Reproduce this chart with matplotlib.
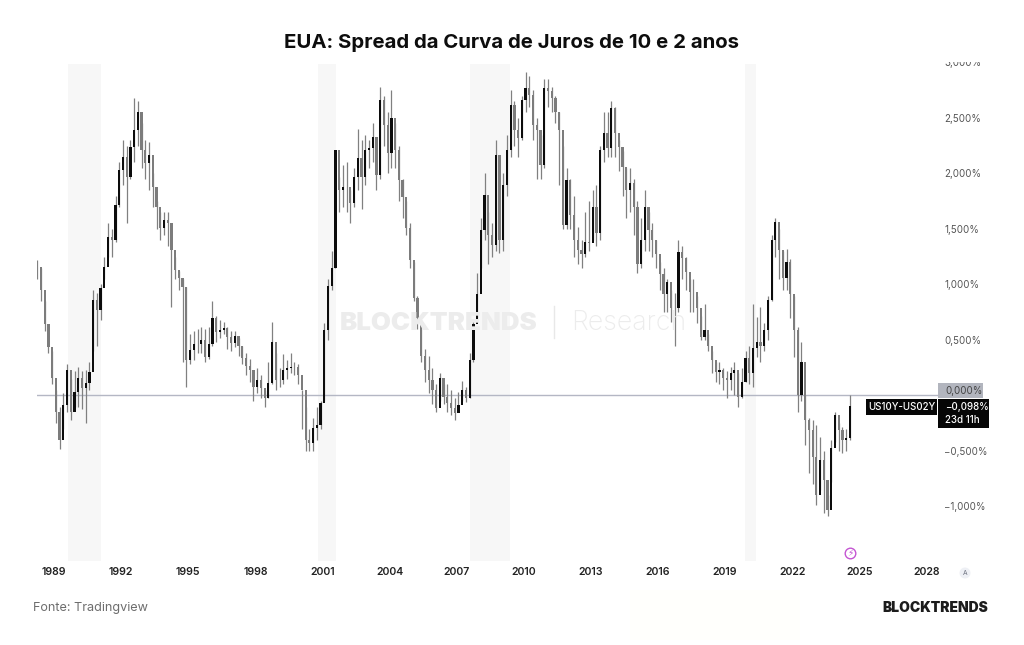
import numpy as np
import matplotlib
matplotlib.use("Agg")
import matplotlib.pyplot as plt
from matplotlib.patches import Rectangle, Circle
from matplotlib.transforms import Bbox

W, H = 1024, 645

# spread values in percent, one candle every two months, three years per row
closes = [
    1.16, 0.95, 0.64, 0.44, 0.16, -0.15, -0.40, -0.09, 0.23, -0.15, 0.03, 0.16, 0.07, 0.11, 0.21, 0.86, 0.77, 0.97,
    1.16, 1.43, 1.40, 1.72, 2.03, 2.15, 1.97, 2.24, 2.39, 2.55, 2.21, 2.09, 2.17, 1.88, 1.70, 1.51, 1.58, 1.55,
    1.31, 1.13, 1.06, 0.98, 0.32, 0.41, 0.46, 0.46, 0.50, 0.35, 0.46, 0.70, 0.57, 0.59, 0.61, 0.53, 0.47, 0.54,
    0.45, 0.34, 0.27, 0.23, 0.08, 0.14, 0.07, -0.02, 0.11, 0.48, 0.14, 0.14, 0.23, 0.25, 0.26, 0.26, 0.18, 0.05,
    -0.40, -0.43, -0.29, -0.27, -0.07, 0.59, 0.99, 1.15, 2.21, 1.85, 1.88, 1.88, 1.73, 1.97, 2.14, 1.97, 2.21, 2.23,
    2.33, 1.99, 2.66, 2.44, 2.18, 2.50, 2.21, 1.94, 1.79, 1.51, 1.22, 0.88, 0.70, 0.36, 0.23, 0.14, 0.05, -0.11,
    0.16, -0.01, -0.07, -0.11, -0.16, -0.09, 0.05, -0.02, 0.32, 0.64, 0.91, 1.49, 1.81, 1.45, 1.36, 2.17, 1.40, 1.90,
    2.21, 2.62, 2.39, 2.32, 2.66, 2.77, 2.71, 2.44, 2.39, 2.08, 2.77, 2.74, 2.68, 2.55, 2.39, 1.54, 1.94, 1.63,
    1.40, 1.31, 1.27, 1.38, 1.37, 1.70, 1.46, 2.21, 2.36, 2.23, 2.59, 2.36, 2.24, 2.06, 1.85, 1.91, 1.70, 1.18,
    1.40, 1.70, 1.49, 1.40, 1.27, 1.09, 0.91, 1.02, 0.79, 0.79, 1.29, 1.24, 1.11, 0.93, 0.93, 0.79, 0.53, 0.59,
    0.45, 0.32, 0.21, 0.23, 0.16, 0.14, 0.20, 0.23, -0.01, 0.12, 0.34, 0.20, 0.43, 0.48, 0.45, 0.59, 0.86, 1.40,
    1.56, 1.31, 1.06, 1.20, 0.91, 0.59, 0.00, 0.30, -0.22, -0.31, -0.55, -0.90, -0.58, -0.76, -1.03, -0.47, -0.18,
    -0.31, -0.40, -0.38, -0.098,
]
highs = [
    1.22, 1.15, 0.85, 0.60, 0.40, 0.05, -0.10, 0.02, 0.28, 0.15, 0.22, 0.26, 0.22, 0.23, 0.30, 0.95, 0.92, 1.00,
    1.25, 1.55, 1.50, 1.80, 2.10, 2.30, 2.25, 2.30, 2.68, 2.65, 2.45, 2.30, 2.28, 2.00, 1.75, 1.65, 1.65, 1.65,
    1.40, 1.25, 1.12, 1.05, 0.98, 0.55, 0.58, 0.60, 0.62, 0.60, 0.62, 0.85, 0.72, 0.68, 0.66, 0.62, 0.58, 0.58,
    0.52, 0.45, 0.38, 0.33, 0.22, 0.25, 0.18, 0.05, 0.30, 0.66, 0.38, 0.25, 0.37, 0.32, 0.38, 0.30, 0.28, 0.05,
    -0.10, -0.30, -0.20, -0.10, -0.05, 0.65, 1.05, 1.30, 2.21, 1.97, 2.08, 2.10, 1.85, 2.05, 2.40, 2.30, 2.35, 2.30,
    2.45, 2.10, 2.78, 2.70, 2.55, 2.75, 2.45, 2.25, 1.95, 1.75, 1.55, 1.20, 0.90, 0.62, 0.42, 0.36, 0.25, 0.10,
    0.20, 0.10, 0.10, 0.05, -0.02, 0.03, 0.13, 0.08, 0.38, 0.68, 1.10, 1.60, 2.00, 1.65, 1.55, 2.30, 1.95, 2.00,
    2.35, 2.75, 2.65, 2.50, 2.70, 2.91, 2.88, 2.75, 2.50, 2.35, 2.85, 2.85, 2.78, 2.70, 2.55, 2.25, 2.05, 1.95,
    1.80, 1.52, 1.40, 1.65, 1.75, 1.85, 1.90, 2.25, 2.55, 2.55, 2.65, 2.60, 2.30, 2.20, 2.05, 2.05, 1.95, 1.75,
    1.60, 1.85, 1.65, 1.55, 1.40, 1.20, 1.15, 1.05, 0.95, 0.92, 1.40, 1.35, 1.25, 1.05, 1.05, 0.90, 0.72, 0.82,
    0.55, 0.40, 0.30, 0.30, 0.25, 0.22, 0.26, 0.30, 0.20, 0.25, 0.40, 0.45, 0.82, 0.71, 0.80, 0.65, 0.90, 1.45,
    1.60, 1.50, 1.30, 1.32, 1.23, 0.90, 0.62, 0.48, 0.00, -0.20, -0.22, -0.27, -0.37, -0.50, -0.90, -0.40, -0.15,
    -0.25, -0.28, -0.30, 0.00,
]
lows = [
    1.05, 0.85, 0.58, 0.38, 0.10, -0.25, -0.48, -0.30, -0.15, -0.22, -0.10, -0.10, -0.12, -0.25, 0.05, 0.40, 0.45, 0.68,
    1.05, 1.25, 1.25, 1.38, 1.70, 1.90, 1.55, 1.95, 2.10, 2.25, 2.05, 1.95, 1.85, 1.70, 1.50, 1.40, 1.45, 1.35,
    0.80, 1.05, 0.95, 0.30, 0.08, 0.28, 0.32, 0.38, 0.38, 0.30, 0.33, 0.45, 0.48, 0.52, 0.55, 0.42, 0.40, 0.44,
    0.36, 0.28, 0.18, 0.12, -0.05, 0.02, -0.02, -0.10, -0.02, 0.10, 0.05, 0.08, 0.10, 0.15, 0.20, 0.18, 0.10, -0.30,
    -0.50, -0.50, -0.50, -0.40, -0.30, -0.05, 0.50, 0.95, 1.15, 1.65, 1.70, 1.65, 1.55, 1.70, 1.85, 1.68, 1.90, 2.05,
    2.10, 1.85, 1.95, 2.25, 2.00, 2.05, 2.05, 1.75, 1.60, 1.45, 1.15, 0.85, 0.60, 0.30, 0.12, 0.02, -0.08, -0.15,
    -0.05, -0.08, -0.15, -0.18, -0.22, -0.14, -0.05, -0.06, -0.02, 0.30, 0.70, 1.15, 1.40, 1.18, 1.25, 1.30, 1.28, 1.30,
    1.80, 2.15, 2.25, 2.15, 2.30, 2.55, 2.60, 2.30, 1.95, 1.95, 2.05, 2.60, 2.55, 2.45, 1.90, 1.50, 1.50, 1.50,
    1.25, 1.18, 1.15, 1.25, 1.30, 1.40, 1.35, 1.40, 2.10, 2.15, 2.15, 2.15, 2.02, 1.80, 1.60, 1.65, 1.45, 1.10,
    1.15, 1.30, 1.30, 1.25, 1.15, 0.95, 0.75, 0.75, 0.66, 0.45, 0.75, 1.05, 0.95, 0.75, 0.75, 0.65, 0.50, 0.50,
    0.40, 0.20, 0.12, 0.10, 0.05, -0.02, 0.05, 0.00, -0.10, -0.02, 0.12, 0.10, 0.08, 0.35, 0.30, 0.40, 0.50, 0.85,
    1.25, 1.05, 0.95, 0.95, 0.70, 0.35, -0.15, -0.05, -0.45, -0.70, -0.80, -0.99, -0.85, -1.06, -1.09, -0.78, -0.42,
    -0.50, -0.52, -0.50, -0.40,
]

# recession bands, decimal years
recessions = [(1989.62, 1991.10), (2000.82, 2001.62), (2007.62, 2009.37), (2019.90, 2020.40)]

year_ticks = [1989, 1992, 1995, 1998, 2001, 2004, 2007, 2010, 2013, 2016, 2019, 2022, 2025, 2028]
pct_ticks = [3.0, 2.5, 2.0, 1.5, 1.0, 0.5, -0.5, -1.0]
first_year = 1988.25
candles_per_year = 6
countdown = "23d 11h"
symbol = "US10Y-US02Y"


def pct_label(v):
    return f"{v:.3f}%".replace(".", ",").replace("-", "\u2212")


def fx(px):
    return px / W


def fy(px):
    return 1 - px / H


plt.rcParams["font.family"] = ["Inter", "DejaVu Sans"]

fig = plt.figure(figsize=(W / 100, H / 100), dpi=100, facecolor="white")
ax = fig.add_axes([fx(37), fy(561), fx(940) - fx(37), fy(60) - fy(561)])
ax.set_xlim(1988.24, 2028.61)
ax.set_ylim(-1.491, 3.022)

for side in ax.spines.values():
    side.set_visible(False)
ax.patch.set_alpha(0)

closes = np.array(closes)
highs = np.array(highs)
lows = np.array(lows)
years = first_year + np.arange(len(closes)) / candles_per_year
opens = np.r_[closes[0], closes[:-1]]
up = closes >= opens

for start, end in recessions:
    ax.axvspan(start, end, ymin=0, ymax=(2.986 + 1.491) / (3.022 + 1.491), color="#f7f7f7", lw=0, zorder=1)

ax.axhline(0, color="#b4b7c4", lw=1, zorder=2)

# wicks first, then down candles and up candles on top
ax.vlines(years, lows, highs, color="#808080", lw=0.9, zorder=3)
bar_w = 0.1
ax.bar(years[~up], (closes - opens)[~up], bottom=opens[~up], width=bar_w, color="#7c7c7c", lw=0, zorder=4)
ax.bar(years[up], (closes - opens)[up], bottom=opens[up], width=bar_w, color="#0c0c0c", lw=0, zorder=5)

ax.set_xticks(year_ticks)
ax.set_xticklabels([str(y) for y in year_ticks], fontsize=7.6, fontweight="semibold", color="#222222")
ax.set_yticks(pct_ticks)
ax.set_yticklabels([pct_label(v) for v in pct_ticks], fontsize=7, color="#555555", ha="left")
ax.yaxis.tick_right()
ax.tick_params(axis="x", length=0, pad=4)
ax.tick_params(axis="y", length=0, pad=3)

# labels run off the chart pane on the right and the top
clip = Bbox([[0, 0], [940, H - 62]])
for lbl in ax.get_xticklabels():
    lbl.set_clip_box(clip)
    lbl.set_clip_on(True)
for lbl in ax.get_yticklabels():
    lbl.set_clip_box(Bbox([[0, 0], [W, H - 62]]))
    lbl.set_clip_on(True)

# header, footer and brand mark
fig.text(fx(512), fy(43), "EUA: Spread da Curva de Juros de 10 e 2 anos", ha="center", va="center",
         fontsize=14.65, fontweight="bold", color="#0d0d0d")
fig.text(fx(33), fy(608), "Fonte: Tradingview", ha="left", va="center", fontsize=9.1, color="#6e6e6e")
fig.text(fx(988), fy(608.5), "BLOCKTRENDS", ha="right", va="center", fontsize=10, fontweight="black", color="#1c1c1c")

fig.text(fx(340), fy(323.5), "BLOCKTRENDS", ha="left", va="center", fontsize=18.6, fontweight="black",
         color="#ececec", zorder=0)
fig.text(fx(571), fy(323.5), "Research", ha="left", va="center", fontsize=19.3, fontweight="light",
         color="#ececec", zorder=0)
fig.add_artist(plt.Line2D([fx(554), fx(554)], [fy(306), fy(338)], color="#e8e8e8", lw=1, zorder=0))

fig.add_artist(Rectangle((fx(630), fy(640)), fx(170), fy(590) - fy(640), color="#fffffc", lw=0, zorder=0))

# price scale tags at the right
fig.add_artist(Rectangle((fx(938), fy(398)), fx(45), fy(383) - fy(398), color="#b2b5be", lw=0, zorder=6))
fig.text(fx(945), fy(390.5), pct_label(0), ha="left", va="center", fontsize=7, color="#444444", zorder=7)
fig.add_artist(Rectangle((fx(938), fy(428)), fx(51), fy(399) - fy(428), color="#060606", lw=0, zorder=6))
fig.text(fx(945), fy(407), pct_label(closes[-1]), ha="left", va="center", fontsize=7, color="white",
         fontweight="medium", zorder=7)
fig.text(fx(945), fy(420), countdown, ha="left", va="center", fontsize=7, color="white", fontweight="medium", zorder=7)
fig.add_artist(Rectangle((fx(866), fy(415)), fx(71), fy(399) - fy(415), color="#060606", lw=0, zorder=6))
fig.text(fx(901.5), fy(407), symbol, ha="center", va="center", fontsize=7, color="white", fontweight="medium", zorder=7)

# dividend marker and auto scale button
overlay = fig.add_axes([0, 0, 1, 1], zorder=8)
overlay.set_xlim(0, W)
overlay.set_ylim(H, 0)
overlay.axis("off")
overlay.add_patch(Circle((850.5, 553.5), 5.3, fc="white", ec="#c455d2", lw=1))
overlay.text(850.5, 553.7, "\u26a1", ha="center", va="center", fontsize=6.5, color="#c455d2",
             family="DejaVu Sans")
overlay.add_patch(Circle((965, 573), 5.5, fc="#eef0f5", ec="none"))
overlay.text(965, 573.2, "A", ha="center", va="center", fontsize=4.8, color="#6e7280")

fig.savefig("out.png", dpi=100)
